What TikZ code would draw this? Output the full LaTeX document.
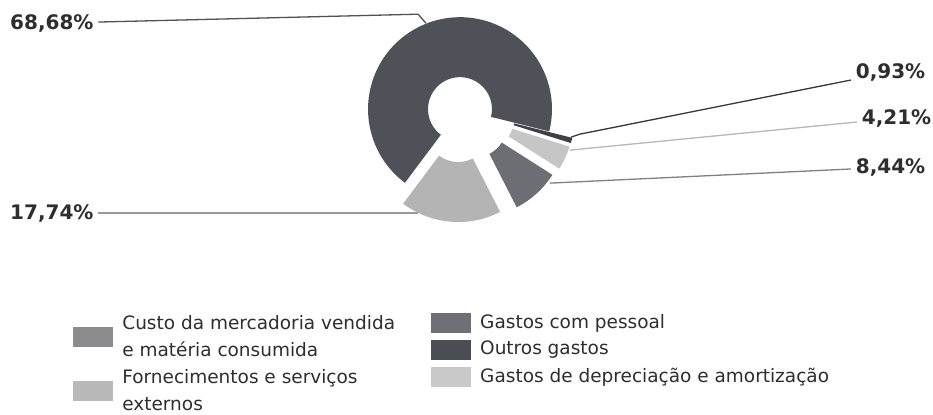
\documentclass[tikz,border=0pt]{standalone}
\usepackage{fontspec}
\setmainfont{DejaVu Sans}
\usepackage{tikz}
\usetikzlibrary{positioning}

\definecolor{slicedark}{HTML}{4F5158}
\definecolor{slicethin}{HTML}{3E4046}
\definecolor{slicepale}{HTML}{C6C6C6}
\definecolor{slicemid}{HTML}{6C6E74}
\definecolor{slicelight}{HTML}{B4B4B4}
\definecolor{swcusto}{HTML}{8C8C8E}
\definecolor{swfornec}{HTML}{B9B9B9}
\definecolor{swpessoal}{HTML}{6E7077}
\definecolor{swoutros}{HTML}{4B4D55}
\definecolor{swdeprec}{HTML}{C9C9C9}
\definecolor{txtgray}{HTML}{2E2E2E}

\begin{document}
\begin{tikzpicture}[x=1pt,y=1pt,
  pct/.style={font=\fontsize{20}{24}\selectfont\bfseries,text=txtgray,inner sep=0pt,outer sep=5pt,anchor=west},
  legtext/.style={font=\fontsize{18.5}{27}\selectfont,text=txtgray,inner sep=0pt,anchor=west,align=left},
  swatch/.style={minimum width=40pt,minimum height=20pt,inner sep=0pt},
  leader/.style={line width=1.3pt}]
\filldraw[color=white] (0.000000, 0.000000) rectangle (933.000000, -414.000000);
% Drawing slices
\begin{scope}[shift={(460.000000,-109.000000)}]
% Slice 1: 68,68%
\fill[color=slicedark] (-14.000000:92) arc[start angle=-14.000000,end angle=233.200000,radius=92] -- (233.200000:32) arc[start angle=233.200000,end angle=-14.000000,radius=32] -- cycle;
% Slice 2: 0,93%
\begin{scope}[shift={(-15.675000:24)}]
\fill[color=slicethin] (-17.350000:92) arc[start angle=-17.350000,end angle=-14.000000,radius=92] -- (-14.000000:32) arc[start angle=-14.000000,end angle=-17.350000,radius=32] -- cycle;
\end{scope}
% Slice 3: 4,21%
\begin{scope}[shift={(-24.925000:24)}]
\fill[color=slicepale] (-32.500000:92) arc[start angle=-32.500000,end angle=-17.350000,radius=92] -- (-17.350000:32) arc[start angle=-17.350000,end angle=-32.500000,radius=32] -- cycle;
\end{scope}
% Slice 4: 8,44%
\begin{scope}[shift={(-47.700000:22)}]
\fill[color=slicemid] (-62.900000:92) arc[start angle=-62.900000,end angle=-32.500000,radius=92] -- (-32.500000:32) arc[start angle=-32.500000,end angle=-62.900000,radius=32] -- cycle;
\end{scope}
% Slice 5: 17,74%
\begin{scope}[shift={(-94.850000:21)}]
\fill[color=slicelight] (-126.800000:92) arc[start angle=-126.800000,end angle=-62.900000,radius=92] -- (-62.900000:32) arc[start angle=-62.900000,end angle=-126.800000,radius=32] -- cycle;
\end{scope}
\end{scope}
% Done with slices; drawing labels
\node[pct] (p6868) at (5.000000,-23.000000) {68,68\%};
\node[pct] (p1774) at (5.000000,-213.000000) {17,74\%};
\node[pct] (p093) at (851.000000,-72.000000) {0,93\%};
\node[pct] (p421) at (857.000000,-118.000000) {4,21\%};
\node[pct] (p844) at (851.000000,-167.000000) {8,44\%};
% Leader ends
\coordinate (k6868) at (418.000000,-14.000000);
\coordinate (e6868) at (426.000000,-23.000000);
\coordinate (e1774) at (418.000000,-213.000000);
\coordinate (k093) at (580.000000,-134.000000);
\coordinate (e093) at (571.000000,-137.000000);
\coordinate (e421) at (570.000000,-150.000000);
\coordinate (e844) at (550.000000,-183.000000);
% Drawing leaders
\draw[leader,color=black!68] (p6868) -- (k6868) -- (e6868);
\draw[leader,color=black!40] (p1774) -- (e1774);
\draw[leader,color=black!78] (p093) -- (k093) -- (e093);
\draw[leader,color=black!28] (p421) -- (e421);
\draw[leader,color=black!50] (p844) -- (e844);
% Done with leaders; drawing legend
\node[legtext] (lcusto) at (122.000000,-336.500000) {Custo da mercadoria vendida\\e matéria consumida};
\node[legtext] (lfornec) at (122.000000,-390.500000) {Fornecimentos e serviços\\externos};
\node[legtext] (lpessoal) at (480.000000,-323.000000) {Gastos com pessoal};
\node[legtext] (loutros) at (480.000000,-350.000000) {Outros gastos};
\node[legtext] (ldeprec) at (480.000000,-377.000000) {Gastos de depreciação e amortização};
\node[swatch,fill=swcusto,left=9pt of lcusto] (scusto) {};
\node[swatch,fill=swfornec,left=9pt of lfornec] (sfornec) {};
\node[swatch,fill=swpessoal,left=9pt of lpessoal] (spessoal) {};
\node[swatch,fill=swoutros,left=9pt of loutros] (soutros) {};
\node[swatch,fill=swdeprec,left=9pt of ldeprec] (sdeprec) {};
% Done with legend
\end{tikzpicture}
\end{document}
